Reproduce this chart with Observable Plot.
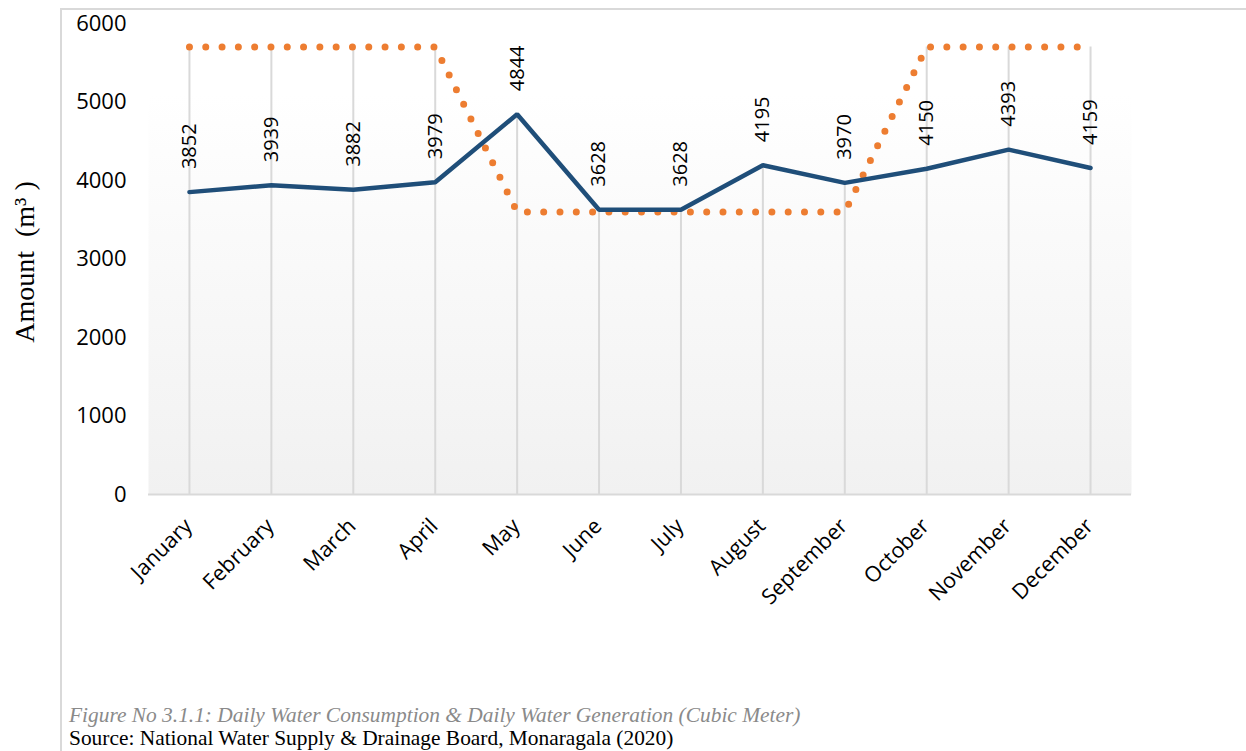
<!DOCTYPE html>
<html>
<head>
<meta charset="utf-8">
<script src="https://cdn.jsdelivr.net/npm/d3@7"></script>
<script src="https://cdn.jsdelivr.net/npm/@observablehq/plot@0.6"></script>
<style>
  html, body { margin: 0; padding: 0; background: #fff; }
  #wrap { position: relative; width: 1246px; height: 751px; overflow: hidden; }
  #frame { position: absolute; left: 60px; top: 8px; width: 1300px; height: 800px;
           border-left: 2px solid #d9d9d9; border-top: 2px solid #d9d9d9; }
  #chart { position: absolute; left: 0; top: 0; }
  .cap { position: absolute; left: 69px; white-space: nowrap; line-height: 24px; font-size: 21.4px;
         font-family: "Liberation Serif", "Times New Roman", serif; }
  #cap1 { top: 703px; font-style: italic; color: #8a8a8a; }
  #cap2 { top: 726px; color: #000; }
</style>
</head>
<body>
<div id="wrap">
  <div id="frame"></div>
  <div id="chart"></div>
  <div class="cap" id="cap1">Figure No 3.1.1: Daily Water Consumption &amp; Daily Water Generation (Cubic Meter)</div>
  <div class="cap" id="cap2">Source: National Water Supply &amp; Drainage Board, Monaragala (2020)</div>
</div>
<script>
const months = ["January","February","March","April","May","June","July","August","September","October","November","December"];
const consumption = [3852, 3939, 3882, 3979, 4844, 3628, 3628, 4195, 3970, 4150, 4393, 4159];
const generation = [5700, 5700, 5700, 5700, 3600, 3600, 3600, 3600, 3600, 5700, 5700, 5700];
const yTicks = [0, 1000, 2000, 3000, 4000, 5000, 6000];
const yLabel = "Amount\u00A0\u00A0(m\u00B3\u00A0)";

const rows = months.map((m, i) => ({month: m, cons: consumption[i], gen: generation[i], top: Math.max(consumption[i], generation[i])}));

const W = 1246, H = 700;
const plot = Plot.plot({
  width: W,
  height: H,
  marginLeft: 148,
  marginRight: 115,
  marginTop: 23,
  marginBottom: H - 494,
  style: {fontFamily: "'Open Sans', sans-serif", background: "transparent"},
  x: {type: "point", domain: months, padding: 0.5, round: false, axis: null},
  y: {domain: [0, 6000], axis: null},
  marks: [
    Plot.frame({fill: "url(#bgGrad)", stroke: null}),
    Plot.ruleX(rows, {x: "month", y1: 0, y2: "top", stroke: "#d9d9d9", strokeWidth: 2}),
    Plot.ruleY([0], {stroke: "#d9d9d9", strokeWidth: 2}),
    Plot.axisY({ticks: yTicks, tickSize: 0, tickPadding: 22, fontSize: 22, label: null, tickFormat: d => String(d), color: "#000"}),
    Plot.axisX({tickSize: 0, tickRotate: -45, tickPadding: 8, dx: -1, dy: 20, fontSize: 21.5, label: null, color: "#000"}),
    Plot.text([yLabel], {frameAnchor: "left", dx: -123, dy: 3, rotate: -90, textAnchor: "middle", text: d => d,
      fontFamily: "'Liberation Serif', 'Times New Roman', serif", fontSize: 28, fill: "#000"}),
    Plot.line(rows, {x: "month", y: "gen", stroke: "#ED7D31", strokeWidth: 7, strokeDasharray: "0,16.3", strokeLinecap: "round", strokeLinejoin: "round"}),
    Plot.line(rows, {x: "month", y: "cons", stroke: "#1F4E79", strokeWidth: 4.5, strokeLinejoin: "miter"}),
    Plot.text(rows, {x: "month", y: "cons", text: d => String(d.cons), rotate: -90, textAnchor: "start", dy: -23, fontSize: 20, fill: "#000"})
  ]
});

const svg = d3.select(plot);
const defs = svg.insert("defs", ":first-child");
const g = defs.append("linearGradient").attr("id", "bgGrad").attr("x1", 0).attr("y1", 0).attr("x2", 0).attr("y2", 1);
g.append("stop").attr("offset", "0%").attr("stop-color", "#ffffff");
g.append("stop").attr("offset", "15%").attr("stop-color", "#ffffff");
g.append("stop").attr("offset", "100%").attr("stop-color", "#f1f1f1");

document.getElementById("chart").appendChild(plot);
</script>
</body>
</html>
